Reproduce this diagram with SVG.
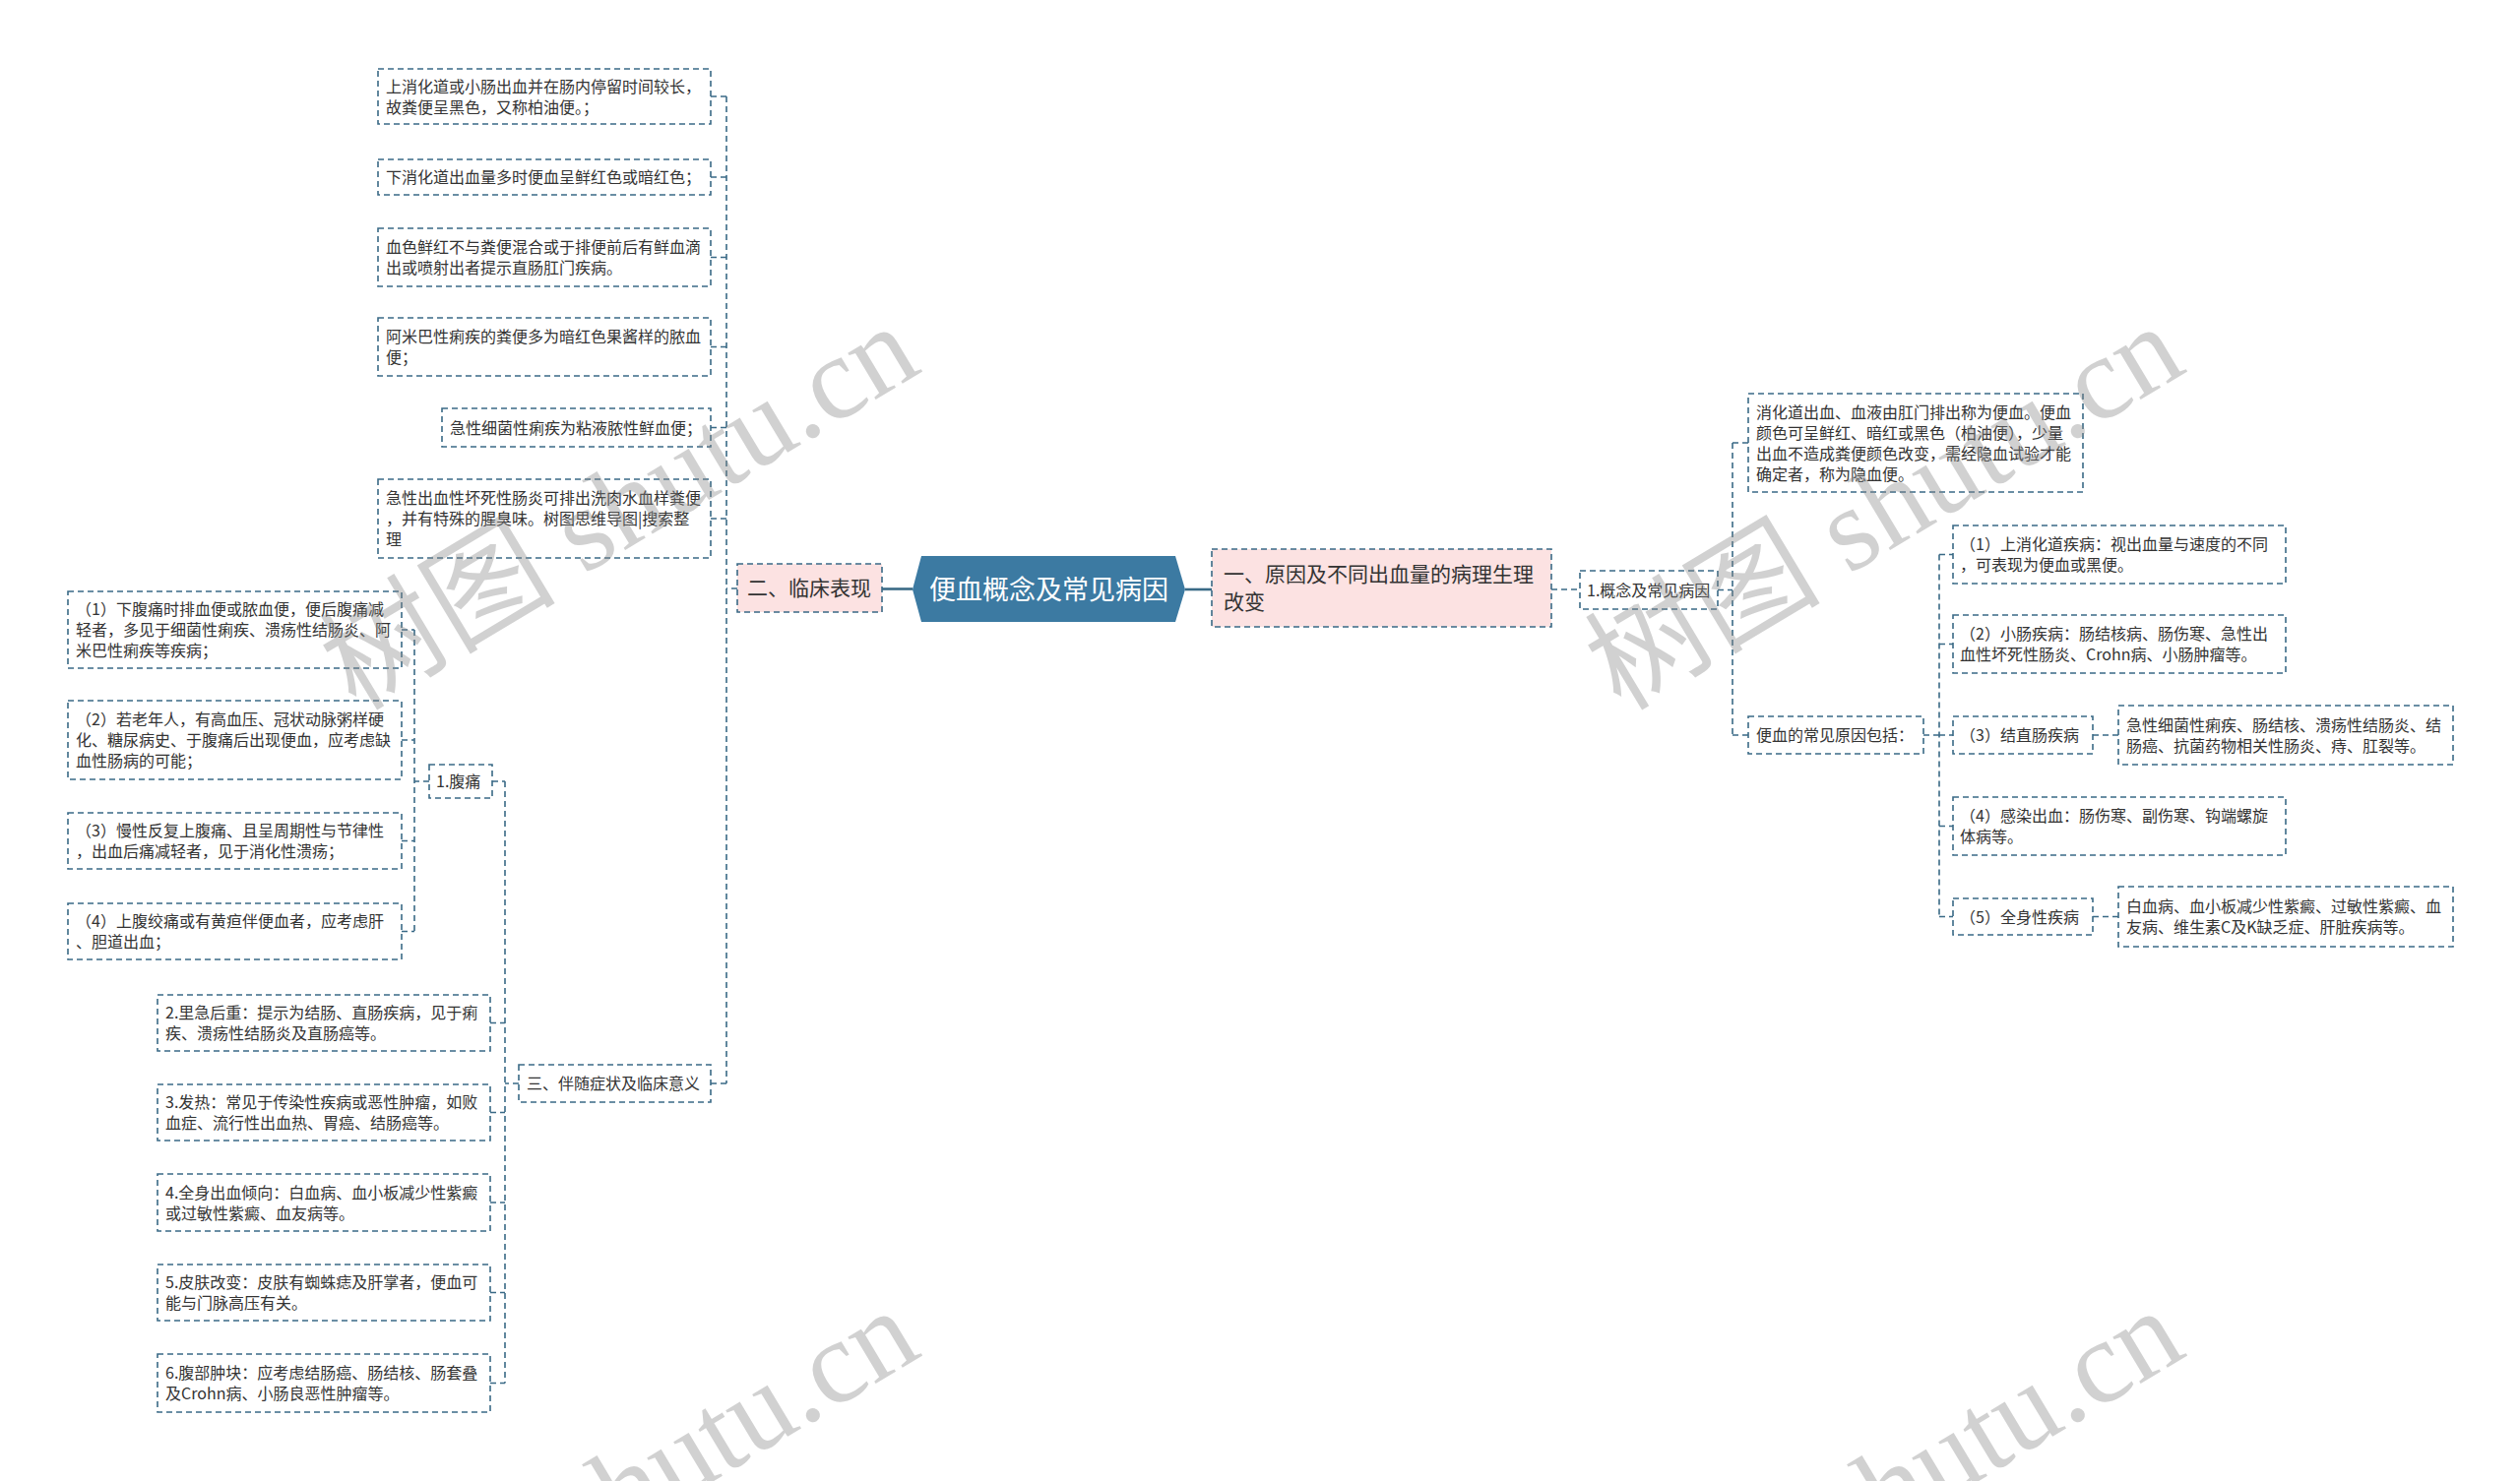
<svg xmlns="http://www.w3.org/2000/svg" width="2560" height="1505" viewBox="0 0 2560 1505">
<style>
.box{fill:#ffffff;stroke:#3a6a86;stroke-width:1.6;stroke-dasharray:6 4}
.pink{fill:#fce2e2}
.t{font-family:"Noto Sans CJK SC","Microsoft YaHei",sans-serif;font-size:16px;fill:#333333}
.tb{font-family:"Noto Sans CJK SC","Microsoft YaHei",sans-serif;font-size:21px;fill:#333333}
.tc{font-family:"Noto Sans CJK SC","Microsoft YaHei",sans-serif;font-size:27px;fill:#ffffff}
.conn{fill:none;stroke:#3a6a86;stroke-width:1.6;stroke-dasharray:6 4}
.solid{fill:none;stroke:#3a6a86;stroke-width:2.6}
.wm{font-family:"Liberation Serif","Noto Sans CJK SC",serif;font-size:120px;fill:#888888;opacity:0.38}
</style>
<rect width="2560" height="1505" fill="#ffffff"/>
<g id="connectors">
<path class="solid" d="M896 598.5H927"/>
<path class="solid" d="M1204 599H1231"/>
<path class="conn" d="M749 598H738"/>
<path class="conn" d="M738 98V1101"/>
<path class="conn" d="M722 98H738M722 180H738M722 261.5H738M722 352.5H738M722 434.5H738M722 527H738M722 1101H738"/>
<path class="conn" d="M527 1101H513"/>
<path class="conn" d="M513 794V1405.5"/>
<path class="conn" d="M500 794H513M498 1039.5H513M498 1130.5H513M498 1222H513M498 1313.5H513M498 1405.5H513"/>
<path class="conn" d="M436 794H421"/>
<path class="conn" d="M421 640V946.5"/>
<path class="conn" d="M408 640H421M408 752H421M408 854.5H421M408 946.5H421"/>
<path class="conn" d="M1576 599H1605"/>
<path class="conn" d="M1745 599.5H1760"/>
<path class="conn" d="M1760 450V747"/>
<path class="conn" d="M1760 450H1776M1760 747H1776"/>
<path class="conn" d="M1954 747H1970"/>
<path class="conn" d="M1970 563.5V931.5"/>
<path class="conn" d="M1970 563.5H1984M1970 654.5H1984M1970 747H1984M1970 839.5H1984M1970 931.5H1984"/>
<path class="conn" d="M2126 747H2152M2126 931.5H2152"/>
</g>
<g id="root">
<polygon points="927,599 936,565 1194,565 1204,599 1194,632 936,632" fill="#3c7aa2"/>
<text class="tc" x="1065.5" y="608.5" text-anchor="middle">便血概念及常见病因</text>
</g>
<g id="n-clinical">
<rect class="box pink" x="749" y="573" width="147" height="49"/>
<text class="tb" x="759" y="605">二、临床表现</text>
</g>
<g id="n-cause">
<rect class="box pink" x="1231" y="558" width="345" height="79"/>
<text class="tb" x="1243" y="591">一、原因及不同出血量的病理生理</text>
<text class="tb" x="1243" y="619">改变</text>
</g>
<g id="n-l1">
<rect class="box" x="384" y="70" width="338" height="56"/>
<text class="t" x="392" y="93.5">上消化道或小肠出血并在肠内停留时间较长，</text>
<text class="t" x="392" y="114.5">故粪便呈黑色，又称柏油便。；</text>
</g>
<g id="n-l2">
<rect class="box" x="384" y="162" width="338" height="36"/>
<text class="t" x="392" y="186">下消化道出血量多时便血呈鲜红色或暗红色；</text>
</g>
<g id="n-l3">
<rect class="box" x="384" y="232" width="338" height="59"/>
<text class="t" x="392" y="257">血色鲜红不与粪便混合或于排便前后有鲜血滴</text>
<text class="t" x="392" y="278">出或喷射出者提示直肠肛门疾病。</text>
</g>
<g id="n-l4">
<rect class="box" x="384" y="323" width="338" height="59"/>
<text class="t" x="392" y="348">阿米巴性痢疾的粪便多为暗红色果酱样的脓血</text>
<text class="t" x="392" y="369">便；</text>
</g>
<g id="n-l5">
<rect class="box" x="449" y="415" width="273" height="39"/>
<text class="t" x="457" y="440.5">急性细菌性痢疾为粘液脓性鲜血便；</text>
</g>
<g id="n-l6">
<rect class="box" x="384" y="487" width="338" height="80"/>
<text class="t" x="392" y="512">急性出血性坏死性肠炎可排出洗肉水血样粪便</text>
<text class="t" x="392" y="533">，并有特殊的腥臭味。树图思维导图|搜索整</text>
<text class="t" x="392" y="554">理</text>
</g>
<g id="n-three">
<rect class="box" x="527" y="1082" width="195" height="38"/>
<text class="t" x="535" y="1107">三、伴随症状及临床意义</text>
</g>
<g id="n-pain">
<rect class="box" x="436" y="777" width="64" height="34"/>
<text class="t" x="443" y="800">1.腹痛</text>
</g>
<g id="n-p1">
<rect class="box" x="69" y="601" width="339" height="78"/>
<text class="t" x="77" y="625">（1）下腹痛时排血便或脓血便，便后腹痛减</text>
<text class="t" x="77" y="646">轻者，多见于细菌性痢疾、溃疡性结肠炎、阿</text>
<text class="t" x="77" y="667">米巴性痢疾等疾病；</text>
</g>
<g id="n-p2">
<rect class="box" x="69" y="712" width="339" height="80"/>
<text class="t" x="77" y="737">（2）若老年人，有高血压、冠状动脉粥样硬</text>
<text class="t" x="77" y="758">化、糖尿病史、于腹痛后出现便血，应考虑缺</text>
<text class="t" x="77" y="779">血性肠病的可能；</text>
</g>
<g id="n-p3">
<rect class="box" x="69" y="826" width="339" height="57"/>
<text class="t" x="77" y="850">（3）慢性反复上腹痛、且呈周期性与节律性</text>
<text class="t" x="77" y="871">，出血后痛减轻者，见于消化性溃疡；</text>
</g>
<g id="n-p4">
<rect class="box" x="69" y="918" width="339" height="57"/>
<text class="t" x="77" y="942">（4）上腹绞痛或有黄疸伴便血者，应考虑肝</text>
<text class="t" x="77" y="963">、胆道出血；</text>
</g>
<g id="n-s2">
<rect class="box" x="160" y="1011" width="338" height="57"/>
<text class="t" x="168" y="1035">2.里急后重：提示为结肠、直肠疾病，见于痢</text>
<text class="t" x="168" y="1056">疾、溃疡性结肠炎及直肠癌等。</text>
</g>
<g id="n-s3">
<rect class="box" x="160" y="1102" width="338" height="57"/>
<text class="t" x="168" y="1126">3.发热：常见于传染性疾病或恶性肿瘤，如败</text>
<text class="t" x="168" y="1147">血症、流行性出血热、胃癌、结肠癌等。</text>
</g>
<g id="n-s4">
<rect class="box" x="160" y="1193" width="338" height="58"/>
<text class="t" x="168" y="1217.5">4.全身出血倾向：白血病、血小板减少性紫癜</text>
<text class="t" x="168" y="1238.5">或过敏性紫癜、血友病等。</text>
</g>
<g id="n-s5">
<rect class="box" x="160" y="1285" width="338" height="57"/>
<text class="t" x="168" y="1309">5.皮肤改变：皮肤有蜘蛛痣及肝掌者，便血可</text>
<text class="t" x="168" y="1330">能与门脉高压有关。</text>
</g>
<g id="n-s6">
<rect class="box" x="160" y="1376" width="338" height="59"/>
<text class="t" x="168" y="1401">6.腹部肿块：应考虑结肠癌、肠结核、肠套叠</text>
<text class="t" x="168" y="1422">及Crohn病、小肠良恶性肿瘤等。</text>
</g>
<g id="n-concept">
<rect class="box" x="1605" y="580" width="140" height="39"/>
<text class="t" x="1612" y="605.5">1.概念及常见病因</text>
</g>
<g id="n-def">
<rect class="box" x="1776" y="400" width="340" height="100"/>
<text class="t" x="1784" y="424.5">消化道出血、血液由肛门排出称为便血。便血</text>
<text class="t" x="1784" y="445.5">颜色可呈鲜红、暗红或黑色（柏油便），少量</text>
<text class="t" x="1784" y="466.5">出血不造成粪便颜色改变，需经隐血试验才能</text>
<text class="t" x="1784" y="487.5">确定者，称为隐血便。</text>
</g>
<g id="n-causes">
<rect class="box" x="1776" y="728" width="178" height="38"/>
<text class="t" x="1784" y="753">便血的常见原因包括：</text>
</g>
<g id="n-c1">
<rect class="box" x="1984" y="534" width="338" height="59"/>
<text class="t" x="1991" y="559">（1）上消化道疾病：视出血量与速度的不同</text>
<text class="t" x="1991" y="580">，可表现为便血或黑便。</text>
</g>
<g id="n-c2">
<rect class="box" x="1984" y="625" width="338" height="59"/>
<text class="t" x="1991" y="650">（2）小肠疾病：肠结核病、肠伤寒、急性出</text>
<text class="t" x="1991" y="671">血性坏死性肠炎、Crohn病、小肠肿瘤等。</text>
</g>
<g id="n-c3">
<rect class="box" x="1984" y="728" width="142" height="38"/>
<text class="t" x="1991" y="753">（3）结直肠疾病</text>
</g>
<g id="n-c3a">
<rect class="box" x="2152" y="717" width="340" height="60"/>
<text class="t" x="2160" y="742.5">急性细菌性痢疾、肠结核、溃疡性结肠炎、结</text>
<text class="t" x="2160" y="763.5">肠癌、抗菌药物相关性肠炎、痔、肛裂等。</text>
</g>
<g id="n-c4">
<rect class="box" x="1984" y="810" width="338" height="59"/>
<text class="t" x="1991" y="835">（4）感染出血：肠伤寒、副伤寒、钩端螺旋</text>
<text class="t" x="1991" y="856">体病等。</text>
</g>
<g id="n-c5">
<rect class="box" x="1984" y="913" width="142" height="37"/>
<text class="t" x="1991" y="937.5">（5）全身性疾病</text>
</g>
<g id="n-c5a">
<rect class="box" x="2152" y="901" width="340" height="61"/>
<text class="t" x="2160" y="927">白血病、血小板减少性紫癜、过敏性紫癜、血</text>
<text class="t" x="2160" y="948">友病、维生素C及K缺乏症、肝脏疾病等。</text>
</g>
<g id="watermarks">
<text class="wm" text-anchor="middle" transform="translate(650 550) rotate(-31)">树图 shutu.cn</text>
<text class="wm" text-anchor="middle" transform="translate(1935 550) rotate(-31)">树图 shutu.cn</text>
<text class="wm" text-anchor="middle" transform="translate(650 1550) rotate(-31)">树图 shutu.cn</text>
<text class="wm" text-anchor="middle" transform="translate(1935 1550) rotate(-31)">树图 shutu.cn</text>
</g>
</svg>
